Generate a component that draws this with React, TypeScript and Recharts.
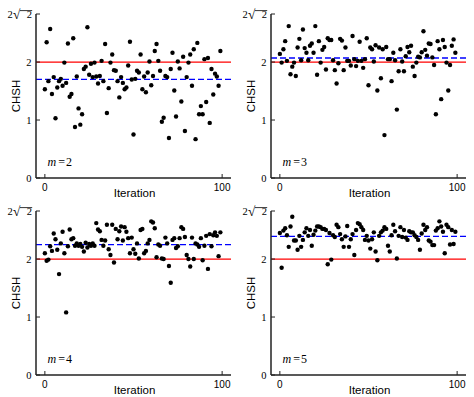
import React from "react";
import { ReferenceLine, Scatter, ScatterChart, XAxis, YAxis } from "recharts";

const SQ2 = 2 * Math.SQRT2;
const xTicks = [0, 100];
const yTicks = [0, 1, 2, SQ2];

// CHSH value per iteration
const chshM2 = [
  1.53, 2.34, 1.67, 2.57, 1.45, 1.74, 1.03, 1.56, 1.67, 1.71,
  1.59, 1.99, 1.64, 2.32, 1.4, 1.45, 2.41, 0.88, 1.75, 1.2,
  0.92, 1.1, 1.88, 1.92, 2.6, 1.78, 1.97, 1.74, 1.99, 1.75,
  1.63, 1.76, 2.02, 1.67, 2.31, 1.12, 1.55, 1.99, 2.13, 1.86,
  1.85, 1.67, 1.39, 1.74, 1.64, 1.53, 1.56, 1.94, 2.35, 1.7,
  0.75, 1.71, 1.85, 1.82, 2.13, 1.53, 1.75, 1.48, 1.82, 2.01,
  1.6, 1.76, 2.19, 2.31, 2.02, 1.85, 0.97, 1.04, 1.76, 1.74,
  0.69, 1.88, 2.16, 1.51, 1.06, 2.01, 1.89, 1.32, 2.09, 0.81,
  1.74, 1.99, 2.13, 1.59, 2.22, 0.67, 2.33, 1.1, 1.24, 1.1,
  2.05, 1.31, 2.07, 0.95, 1.88, 1.44, 1.8, 1.75, 1.59, 2.19,
];
const chshM3 = [
  2.14, 1.99, 2.22, 2.36, 2.02, 2.62, 1.79, 1.92, 1.99, 1.76,
  2.25, 2.4, 2.03, 2.56, 2.24, 2.16, 2.03, 2.28, 2.32, 2.16,
  2.62, 1.78, 2.36, 1.99, 2.21, 2.26, 1.87, 2.41, 2.38, 2.38,
  2.03, 1.86, 1.63, 1.98, 2.4, 2.37, 1.86, 2.25, 2.02, 2.02,
  1.94, 2.45, 2.05, 1.93, 2.02, 2.35, 2.02, 1.9, 2.05, 2.41,
  1.6, 2.25, 2.22, 2.01, 2.29, 1.51, 2.25, 1.72, 2.22, 0.74,
  2.26, 2.05, 2.05, 1.67, 2.16, 2.03, 1.18, 1.84, 2.22, 2.01,
  1.84, 2.1, 2.26, 2.17, 2.28, 1.92, 1.76, 1.99, 2.09, 2.08,
  2.17, 2.53, 2.21, 2.11, 2.32, 2.31, 2.08, 1.95, 1.1, 2.36,
  2.22, 1.36, 2.38, 2.26, 1.99, 1.51, 1.95, 2.28, 2.39, 2.16,
];
const chshM4 = [
  2.1, 1.97, 1.99, 2.22, 2.14, 2.44, 2.34, 2.16, 1.74, 2.27,
  2.47, 2.1, 1.08, 2.22, 2.51, 2.34, 2.36, 2.23, 2.27, 2.23,
  2.26, 2.21, 2.13, 2.28, 2.2, 2.26, 2.23, 2.27, 2.23, 2.62,
  2.51, 2.48, 2.33, 2.23, 2.32, 2.59, 2.17, 2.07, 2.59, 1.94,
  2.52, 2.34, 2.48, 2.56, 2.32, 2.55, 2.47, 2.36, 2.1, 2.37,
  2.17, 2.09, 2.27, 2.01, 2.5, 2.52, 2.1, 2.14, 2.27, 2.33,
  2.65, 2.63, 2.53, 2.03, 2.25, 2.23, 2.01, 2.0, 2.37, 2.27,
  1.88, 1.59, 2.33, 2.36, 2.19, 2.22, 2.36, 2.55, 2.52, 2.38,
  2.07, 2.0, 1.87, 2.37, 2.0, 2.27, 2.25, 2.21, 2.36, 1.98,
  2.23, 2.4, 1.83, 2.43, 2.22, 2.41, 2.46, 2.4, 2.05, 2.46,
];
const chshM5 = [
  2.45, 1.85, 2.49, 2.53, 2.41, 2.21, 2.56, 2.73, 2.32, 2.32,
  2.16, 2.4, 2.21, 2.33, 2.46, 2.53, 2.4, 2.5, 2.23, 2.42,
  2.49, 2.56, 2.56, 2.55, 2.52, 2.52, 2.5, 1.91, 2.45, 1.99,
  2.41, 2.38, 2.59, 2.55, 2.43, 2.34, 2.21, 2.39, 2.57, 2.21,
  2.34, 2.43, 2.07, 2.5, 2.62, 2.6, 2.55, 2.5, 2.33, 2.4,
  2.32, 2.18, 2.34, 2.46, 2.13, 1.98, 2.4, 2.46, 2.49, 2.55,
  2.52, 2.23, 2.13, 2.41, 2.59, 2.48, 2.01, 2.4, 2.55, 2.38,
  2.5, 2.37, 2.33, 2.48, 2.46, 2.46, 2.41, 2.38, 2.33, 2.16,
  2.44, 2.59, 2.5, 2.55, 2.32, 2.3, 2.24, 2.24, 2.49, 2.53,
  2.65, 2.56, 2.47, 2.1, 2.59, 2.55, 2.25, 2.5, 2.26, 2.47,
];

// dashed blue line = average of each run
const meanLevels = [1.7, 2.07, 2.25, 2.39];
const bellBound = 2;
const mValues = ["2", "3", "4", "5"];

const frame = "#222";
const sans = "'Liberation Sans', Arial, sans-serif";
const serif = "'Liberation Serif', 'Times New Roman', serif";

const BottomTick = ({ x, y, payload }: any) => (
  <g>
    <line x1={x} y1={y} x2={x} y2={y - 4} stroke={frame} strokeWidth={1} />
    <text x={x} y={y + 13} textAnchor="middle" fontFamily={sans} fontSize={10} fill="#000">
      {payload.value}
    </text>
  </g>
);

const TopTick = ({ x, y }: any) => (
  <line x1={x} y1={y} x2={x} y2={y + 4} stroke={frame} strokeWidth={1} />
);

const RightTick = ({ x, y }: any) => (
  <line x1={x} y1={y} x2={x - 4} y2={y} stroke={frame} strokeWidth={1} />
);

// 2√2 written out: leading 2, radical sign, radicand with its bar
const RootTwo = ({ x, y }: { x: number; y: number }) => (
  <g fill="#000" fontFamily={serif}>
    <text x={x - 28.5} y={y + 3.6} fontSize={10.5}>2</text>
    <text x={x - 23} y={y + 4.8} fontSize={13.5}>√</text>
    <line x1={x - 16} y1={y - 3.4} x2={x - 3.8} y2={y - 3.4} stroke="#000" strokeWidth={0.8} />
    <text x={x - 9.2} y={y + 3.6} fontSize={10.5}>2</text>
  </g>
);

const LeftTick = ({ x, y, payload }: any) => {
  const isRoot = Math.abs(payload.value - SQ2) < 1e-6;
  return (
    <g>
      <line x1={x} y1={y} x2={x + 4} y2={y} stroke={frame} strokeWidth={1} />
      {isRoot ? (
        <RootTwo x={x} y={y} />
      ) : (
        <text x={x - 4.5} y={y + 3.6} textAnchor="end" fontFamily={serif} fontSize={10.5} fill="#000">
          {payload.value}
        </text>
      )}
    </g>
  );
};

const IterationLabel = (p: any) => {
  const vb = p?.viewBox ?? { x: 36, y: 178, width: 195, height: 22 };
  return (
    <text x={vb.x + vb.width / 2 + 1} y={vb.y + 18.5} textAnchor="middle" fontFamily={sans} fontSize={11.5} fill="#000">
      Iteration
    </text>
  );
};

const ChshLabel = (p: any) => {
  const vb = p?.viewBox ?? { x: 0, y: 14, width: 36, height: 164 };
  const cx = vb.x + vb.width - 20.3;
  const cy = vb.y + vb.height / 2;
  return (
    <text transform={`translate(${cx},${cy}) rotate(-90)`} dy="0.36em" textAnchor="middle" fontFamily={sans} fontSize={11.5} fill="#000">
      CHSH
    </text>
  );
};

const Dot = (p: any) => <circle cx={p.cx} cy={p.cy} r={2.2} fill="#000" />;

function Panel({ values, mean, left, top }: { values: number[]; mean: number; left: number; top: number }) {
  const data = values.map((v, i) => ({ x: i, y: v }));
  return (
    <div style={{ position: "absolute", left, top }}>
      <ScatterChart width={235} height={200} margin={{ top: 14, right: 4, bottom: 0, left: 0 }}>
        <XAxis
          xAxisId="b"
          type="number"
          dataKey="x"
          domain={[-5, 105]}
          allowDataOverflow
          ticks={xTicks}
          interval={0}
          height={22}
          tickSize={0}
          tickMargin={0}
          tickLine={false}
          axisLine={{ stroke: frame, strokeWidth: 1.5 }}
          tick={BottomTick}
          label={IterationLabel}
        />
        <XAxis
          xAxisId="t"
          orientation="top"
          type="number"
          domain={[-5, 105]}
          allowDataOverflow
          ticks={xTicks}
          interval={0}
          height={0}
          tickSize={0}
          tickMargin={0}
          tickLine={false}
          axisLine={{ stroke: frame, strokeWidth: 1.5 }}
          tick={TopTick}
        />
        <YAxis
          yAxisId="l"
          type="number"
          dataKey="y"
          domain={[0, SQ2]}
          allowDataOverflow
          ticks={yTicks}
          interval={0}
          width={36}
          tickSize={0}
          tickMargin={0}
          tickLine={false}
          axisLine={{ stroke: frame, strokeWidth: 1.5 }}
          tick={LeftTick}
          label={ChshLabel}
        />
        <YAxis
          yAxisId="r"
          orientation="right"
          type="number"
          domain={[0, SQ2]}
          allowDataOverflow
          ticks={yTicks}
          interval={0}
          width={0}
          tickSize={0}
          tickMargin={0}
          tickLine={false}
          axisLine={{ stroke: frame, strokeWidth: 1.5 }}
          tick={RightTick}
        />
        <ReferenceLine xAxisId="b" yAxisId="l" y={mean} stroke="#0000ff" strokeWidth={1.3} strokeDasharray="6 3" />
        <ReferenceLine xAxisId="b" yAxisId="l" y={bellBound} stroke="#ff0000" strokeWidth={1.3} />
        <Scatter xAxisId="b" yAxisId="l" data={data} dataKey="y" shape={Dot} isAnimationActive={false} />
      </ScatterChart>
    </div>
  );
}

const panels = [
  { values: chshM2, left: 0, top: 0 },
  { values: chshM3, left: 235, top: 0 },
  { values: chshM4, left: 0, top: 197 },
  { values: chshM5, left: 235, top: 197 },
];

export default function App() {
  return (
    <div style={{ position: "absolute", left: 0, top: 0, width: 474, height: 397, background: "#fff" }}>
      {panels.map((p, i) => (
        <Panel key={i} values={p.values} mean={meanLevels[i]} left={p.left} top={p.top} />
      ))}
      <svg width={474} height={397} style={{ position: "absolute", left: 0, top: 0, pointerEvents: "none" }}>
        {panels.map((p, i) => (
          <text key={i} x={p.left + 47.5} y={p.top + 166} fontFamily={serif} fontSize={12} fill="#000">
            <tspan fontStyle="italic">m</tspan>
            <tspan dx={2}>=</tspan>
            <tspan dx={1}>{mValues[i]}</tspan>
          </text>
        ))}
      </svg>
    </div>
  );
}
